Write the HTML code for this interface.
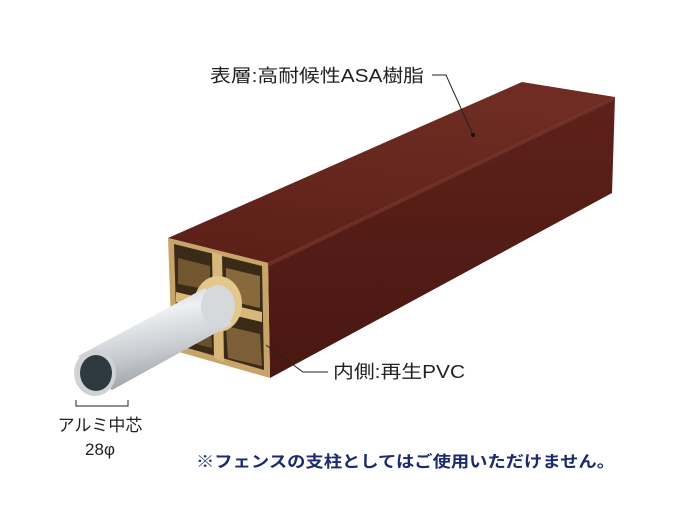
<!DOCTYPE html>
<html><head><meta charset="utf-8"><style>
body{margin:0;background:#fff;}
svg{display:block}
text{font-family:"Liberation Sans","Noto Sans CJK JP",sans-serif;}
</style></head><body>
<svg width="700" height="525" viewBox="0 0 700 525" xmlns="http://www.w3.org/2000/svg">
<defs>
<linearGradient id="top" x1="0" y1="1" x2="0.3" y2="0"><stop offset="0" stop-color="#5a1f18"/><stop offset="1" stop-color="#6e2c22"/></linearGradient>
<linearGradient id="right" x1="0" y1="0" x2="0" y2="1"><stop offset="0" stop-color="#5e211a"/><stop offset="1" stop-color="#4a1712"/></linearGradient>
<linearGradient id="tube" x1="0" y1="0" x2="0.3" y2="1"><stop offset="0" stop-color="#b8bcc0"/><stop offset="0.35" stop-color="#eef0f2"/><stop offset="0.7" stop-color="#c8ccd0"/><stop offset="1" stop-color="#9ea3a8"/></linearGradient>
</defs>
<polygon points="168,238 522,82 615,97 268,263" fill="url(#top)"/>
<polygon points="268,263 615,97 612,193 270,378" fill="url(#right)"/>
<polygon points="268,263 615,97 615,100 268,267" fill="#7a3a2e" opacity="0.6"/>
<polygon points="168,238 268,263 270,378 172,350" fill="#c9a46a"/>
<polygon points="174,244 262,266 264,370 177,345" fill="#3a2a18"/>
<polygon points="212,252 222,255 224,362 214,358" fill="#d8b878"/>
<polygon points="176,292 262,312 262,322 176,302" fill="#d8b878"/>
<polygon points="178,258 210,266 210,290 178,284" fill="#8a6a3a" opacity="0.7"/>
<polygon points="226,268 260,276 260,308 226,300" fill="#a9844c" opacity="0.7"/>
<polygon points="178,306 210,312 212,348 180,340" fill="#8a6a3a" opacity="0.6"/>
<polygon points="226,326 260,334 262,366 228,358" fill="#a9844c" opacity="0.6"/>
<ellipse cx="218" cy="304" rx="24" ry="28" fill="#e3c88c"/>
<polygon points="78,356 205,288 232,324 112,390" fill="url(#tube)"/>
<ellipse cx="218" cy="306" rx="17" ry="21" fill="#d6d9dc"/>
<ellipse cx="95" cy="373" rx="21" ry="23" fill="#cfd3d6"/>
<ellipse cx="96" cy="373" rx="16" ry="18" fill="#2f3a40"/>
<polyline points="432,75 446,75 473,135" fill="none" stroke="#222" stroke-width="1"/>
<circle cx="473" cy="135" r="2" fill="#111"/>
<polyline points="266,345 303,372 328,372" fill="none" stroke="#222" stroke-width="1"/>
<polyline points="76,400 76,406 128,406 128,400" fill="none" stroke="#222" stroke-width="1"/>
<text x="210" y="82" font-size="18" fill="#222" textLength="214" lengthAdjust="spacingAndGlyphs">表層:高耐候性ASA樹脂</text>
<text x="333" y="378" font-size="18" fill="#222" textLength="132" lengthAdjust="spacingAndGlyphs">内側:再生PVC</text>
<text x="100" y="431" font-size="17" fill="#222" text-anchor="middle">アルミ中芯</text>
<text x="100" y="455" font-size="17" fill="#222" text-anchor="middle">28φ</text>
<text x="196" y="467" font-size="16" font-weight="bold" fill="#1c2a6e" textLength="419" lengthAdjust="spacingAndGlyphs">※フェンスの支柱としてはご使用いただけません。</text>
</svg>
</body></html>
